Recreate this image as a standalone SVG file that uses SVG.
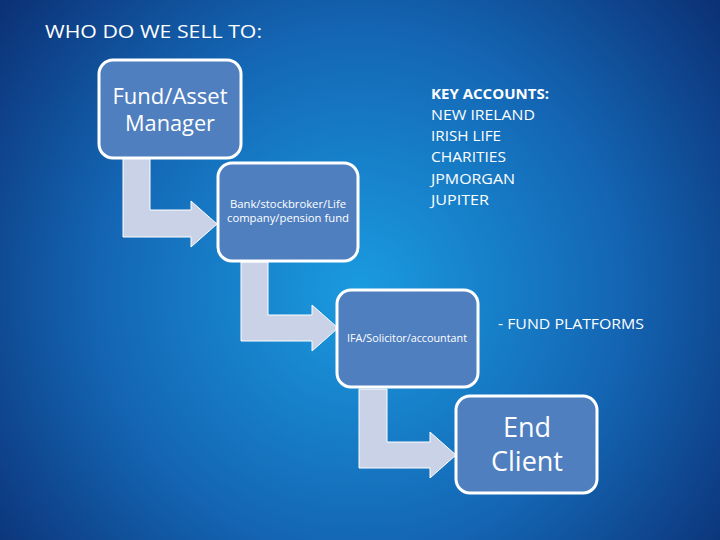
<svg xmlns="http://www.w3.org/2000/svg" width="720" height="540" viewBox="0 0 720 540">
<defs>
<radialGradient id="bg" cx="360" cy="290" r="470" gradientUnits="userSpaceOnUse">
<stop offset="0" stop-color="#1a9be0"/>
<stop offset="0.55" stop-color="#1466b4"/>
<stop offset="1" stop-color="#0b2e72"/>
</radialGradient>
<style>
.box{fill:#4f7fbf;stroke:#fff;stroke-width:3}
.arr{fill:#c9d2e6;stroke:#fff;stroke-width:1}
text{font-family:"Open Sans","Liberation Sans",sans-serif;fill:#fff}
</style>
</defs>
<rect width="720" height="540" fill="url(#bg)"/>
<text x="45" y="38" font-size="18" textLength="217" lengthAdjust="spacingAndGlyphs">WHO DO WE SELL TO:</text>
<g id="connectors">
<path class="arr" d="M123,158 H150 V210 H191 V201 L217,224 L191,247 V237 H123 Z"/>
<path class="arr" d="M241,262 H268 V315 H312 V305 L338,328 L312,351 V341 H241 Z"/>
<path class="arr" d="M359,389 H387 V442 H430 V432 L456,455 L430,478 V468 H359 Z"/>
</g>
<g id="n1"><rect class="box" x="99" y="60" width="142" height="98" rx="14"/>
<text x="170" y="104" font-size="21" text-anchor="middle" textLength="115" lengthAdjust="spacingAndGlyphs">Fund/Asset</text>
<text x="170" y="131" font-size="21" text-anchor="middle" textLength="90" lengthAdjust="spacingAndGlyphs">Manager</text></g>
<g id="n2"><rect class="box" x="218" y="163" width="140" height="98" rx="14"/>
<text x="288" y="208" font-size="11" text-anchor="middle" textLength="116" lengthAdjust="spacingAndGlyphs">Bank/stockbroker/Life</text>
<text x="288" y="222" font-size="11" text-anchor="middle" textLength="122" lengthAdjust="spacingAndGlyphs">company/pension fund</text></g>
<g id="n3"><rect class="box" x="337" y="290" width="141" height="97" rx="14"/>
<text x="407" y="342" font-size="11" text-anchor="middle" textLength="120" lengthAdjust="spacingAndGlyphs">IFA/Solicitor/accountant</text></g>
<g id="n4"><rect class="box" x="456" y="396" width="141" height="97" rx="14"/>
<text x="527" y="437" font-size="27" text-anchor="middle">End</text>
<text x="527" y="471" font-size="27" text-anchor="middle">Client</text></g>
<g id="keyaccounts" font-size="15">
<text x="431" y="99" font-weight="bold" textLength="118" lengthAdjust="spacingAndGlyphs">KEY ACCOUNTS:</text>
<text x="431" y="120" textLength="104" lengthAdjust="spacingAndGlyphs">NEW IRELAND</text>
<text x="431" y="141" textLength="70" lengthAdjust="spacingAndGlyphs">IRISH LIFE</text>
<text x="431" y="162" textLength="75" lengthAdjust="spacingAndGlyphs">CHARITIES</text>
<text x="431" y="184" textLength="84" lengthAdjust="spacingAndGlyphs">JPMORGAN</text>
<text x="431" y="205" textLength="58" lengthAdjust="spacingAndGlyphs">JUPITER</text>
</g>
<text x="498" y="329" font-size="15" textLength="146" lengthAdjust="spacingAndGlyphs">- FUND PLATFORMS</text>
</svg>
